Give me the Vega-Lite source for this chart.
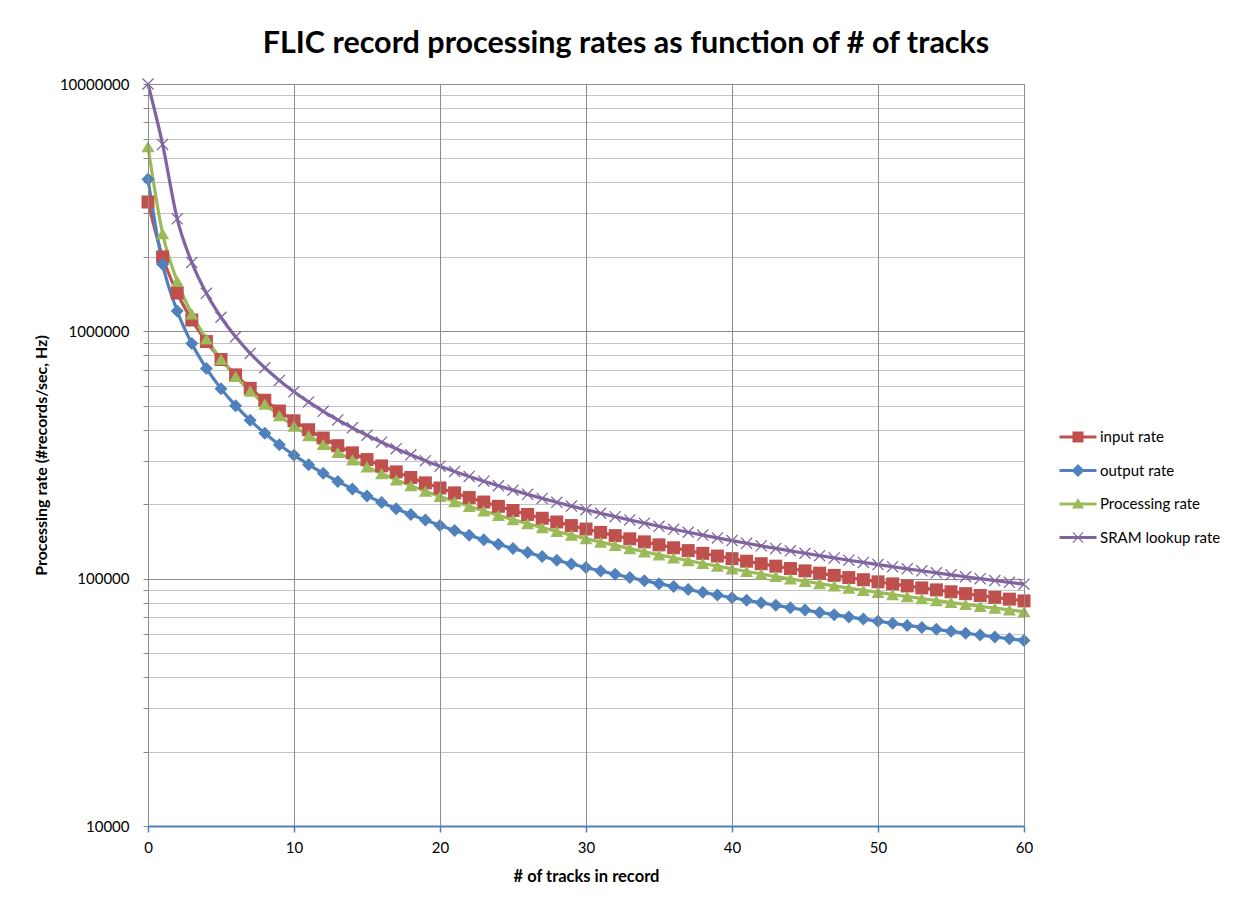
{
  "$schema": "https://vega.github.io/schema/vega-lite/v6.json",
  "autosize": {"type": "none"},
  "width": 876,
  "height": 742,
  "padding": {"left": 148, "top": 84, "right": 227, "bottom": 81},
  "background": "white",
  "config": {
    "view": {"stroke": null},
    "font": "Lato",
    "legend": {
      "title": null,
      "orient": "none", "legendX": 920, "legendY": 343,
      "padding": 0,
      "symbolSize": 400,
      "labelOffset": 12,
      "rowPadding": 15.5,
      "labelFont": "Lato", "labelFontSize": 15, "labelColor": "#000000",
      "symbolOpacity": 1,
      "symbolStrokeWidth": 0
    }
  },
  "title": {
    "text": "FLIC record processing rates as function of # of tracks",
    "font": "Lato", "fontSize": 30.5, "fontWeight": "bold", "color": "#000000",
    "anchor": "middle", "frame": "group", "dx": 40, "baseline": "alphabetic", "offset": -6
  },
  "datasets": {
    "rates": [
      {"s":"input rate","x":0,"y":3333333},{"s":"input rate","x":1,"y":2000000},{"s":"input rate","x":2,"y":1428571},{"s":"input rate","x":3,"y":1111111},{"s":"input rate","x":4,"y":909091},{"s":"input rate","x":5,"y":769231},{"s":"input rate","x":6,"y":666667},{"s":"input rate","x":7,"y":588235},{"s":"input rate","x":8,"y":526316},{"s":"input rate","x":9,"y":476190},
      {"s":"input rate","x":10,"y":434783},{"s":"input rate","x":11,"y":400000},{"s":"input rate","x":12,"y":370370},{"s":"input rate","x":13,"y":344828},{"s":"input rate","x":14,"y":322581},{"s":"input rate","x":15,"y":303030},{"s":"input rate","x":16,"y":285714},{"s":"input rate","x":17,"y":270270},{"s":"input rate","x":18,"y":256410},{"s":"input rate","x":19,"y":243902},
      {"s":"input rate","x":20,"y":232558},{"s":"input rate","x":21,"y":222222},{"s":"input rate","x":22,"y":212766},{"s":"input rate","x":23,"y":204082},{"s":"input rate","x":24,"y":196078},{"s":"input rate","x":25,"y":188679},{"s":"input rate","x":26,"y":181818},{"s":"input rate","x":27,"y":175439},{"s":"input rate","x":28,"y":169492},{"s":"input rate","x":29,"y":163934},
      {"s":"input rate","x":30,"y":158730},{"s":"input rate","x":31,"y":153846},{"s":"input rate","x":32,"y":149254},{"s":"input rate","x":33,"y":144928},{"s":"input rate","x":34,"y":140845},{"s":"input rate","x":35,"y":136986},{"s":"input rate","x":36,"y":133333},{"s":"input rate","x":37,"y":129870},{"s":"input rate","x":38,"y":126582},{"s":"input rate","x":39,"y":123457},
      {"s":"input rate","x":40,"y":120482},{"s":"input rate","x":41,"y":117647},{"s":"input rate","x":42,"y":114943},{"s":"input rate","x":43,"y":112360},{"s":"input rate","x":44,"y":109890},{"s":"input rate","x":45,"y":107527},{"s":"input rate","x":46,"y":105263},{"s":"input rate","x":47,"y":103093},{"s":"input rate","x":48,"y":101010},{"s":"input rate","x":49,"y":99010},
      {"s":"input rate","x":50,"y":97087},{"s":"input rate","x":51,"y":95238},{"s":"input rate","x":52,"y":93458},{"s":"input rate","x":53,"y":91743},{"s":"input rate","x":54,"y":90090},{"s":"input rate","x":55,"y":88496},{"s":"input rate","x":56,"y":86957},{"s":"input rate","x":57,"y":85470},{"s":"input rate","x":58,"y":84034},{"s":"input rate","x":59,"y":82645},{"s":"input rate","x":60,"y":81301},

      {"s":"output rate","x":0,"y":4120482},{"s":"output rate","x":1,"y":1868852},{"s":"output rate","x":2,"y":1208481},{"s":"output rate","x":3,"y":892950},{"s":"output rate","x":4,"y":708075},{"s":"output rate","x":5,"y":586621},{"s":"output rate","x":6,"y":500732},{"s":"output rate","x":7,"y":436782},{"s":"output rate","x":8,"y":387316},{"s":"output rate","x":9,"y":347915},
      {"s":"output rate","x":10,"y":315789},{"s":"output rate","x":11,"y":289095},{"s":"output rate","x":12,"y":266563},{"s":"output rate","x":13,"y":247289},{"s":"output rate","x":14,"y":230614},{"s":"output rate","x":15,"y":216045},{"s":"output rate","x":16,"y":203209},{"s":"output rate","x":17,"y":191812},{"s":"output rate","x":18,"y":181625},{"s":"output rate","x":19,"y":172466},
      {"s":"output rate","x":20,"y":164186},{"s":"output rate","x":21,"y":156665},{"s":"output rate","x":22,"y":149803},{"s":"output rate","x":23,"y":143517},{"s":"output rate","x":24,"y":137737},{"s":"output rate","x":25,"y":132404},{"s":"output rate","x":26,"y":127469},{"s":"output rate","x":27,"y":122889},{"s":"output rate","x":28,"y":118626},{"s":"output rate","x":29,"y":114650},
      {"s":"output rate","x":30,"y":110931},{"s":"output rate","x":31,"y":107446},{"s":"output rate","x":32,"y":104173},{"s":"output rate","x":33,"y":101093},{"s":"output rate","x":34,"y":98191},{"s":"output rate","x":35,"y":95451},{"s":"output rate","x":36,"y":92859},{"s":"output rate","x":37,"y":90404},{"s":"output rate","x":38,"y":88076},{"s":"output rate","x":39,"y":85865},
      {"s":"output rate","x":40,"y":83762},{"s":"output rate","x":41,"y":81760},{"s":"output rate","x":42,"y":79851},{"s":"output rate","x":43,"y":78029},{"s":"output rate","x":44,"y":76288},{"s":"output rate","x":45,"y":74624},{"s":"output rate","x":46,"y":73030},{"s":"output rate","x":47,"y":71503},{"s":"output rate","x":48,"y":70039},{"s":"output rate","x":49,"y":68633},
      {"s":"output rate","x":50,"y":67283},{"s":"output rate","x":51,"y":65985},{"s":"output rate","x":52,"y":64736},{"s":"output rate","x":53,"y":63533},{"s":"output rate","x":54,"y":62375},{"s":"output rate","x":55,"y":61257},{"s":"output rate","x":56,"y":60179},{"s":"output rate","x":57,"y":59139},{"s":"output rate","x":58,"y":58134},{"s":"output rate","x":59,"y":57162},{"s":"output rate","x":60,"y":56222},

      {"s":"Processing rate","x":0,"y":5587500},{"s":"Processing rate","x":1,"y":2483333},{"s":"Processing rate","x":2,"y":1596429},{"s":"Processing rate","x":3,"y":1176316},{"s":"Processing rate","x":4,"y":931250},{"s":"Processing rate","x":5,"y":770690},{"s":"Processing rate","x":6,"y":657353},{"s":"Processing rate","x":7,"y":573077},{"s":"Processing rate","x":8,"y":507955},{"s":"Processing rate","x":9,"y":456122},
      {"s":"Processing rate","x":10,"y":413889},{"s":"Processing rate","x":11,"y":378814},{"s":"Processing rate","x":12,"y":349219},{"s":"Processing rate","x":13,"y":323913},{"s":"Processing rate","x":14,"y":302027},{"s":"Processing rate","x":15,"y":282911},{"s":"Processing rate","x":16,"y":266071},{"s":"Processing rate","x":17,"y":251124},{"s":"Processing rate","x":18,"y":237766},{"s":"Processing rate","x":19,"y":225758},
      {"s":"Processing rate","x":20,"y":214904},{"s":"Processing rate","x":21,"y":205046},{"s":"Processing rate","x":22,"y":196053},{"s":"Processing rate","x":23,"y":187815},{"s":"Processing rate","x":24,"y":180242},{"s":"Processing rate","x":25,"y":173256},{"s":"Processing rate","x":26,"y":166791},{"s":"Processing rate","x":27,"y":160791},{"s":"Processing rate","x":28,"y":155208},{"s":"Processing rate","x":29,"y":150000},
      {"s":"Processing rate","x":30,"y":145130},{"s":"Processing rate","x":31,"y":140566},{"s":"Processing rate","x":32,"y":136280},{"s":"Processing rate","x":33,"y":132249},{"s":"Processing rate","x":34,"y":128448},{"s":"Processing rate","x":35,"y":124860},{"s":"Processing rate","x":36,"y":121467},{"s":"Processing rate","x":37,"y":118254},{"s":"Processing rate","x":38,"y":115206},{"s":"Processing rate","x":39,"y":112312},
      {"s":"Processing rate","x":40,"y":109559},{"s":"Processing rate","x":41,"y":106938},{"s":"Processing rate","x":42,"y":104439},{"s":"Processing rate","x":43,"y":102055},{"s":"Processing rate","x":44,"y":99777},{"s":"Processing rate","x":45,"y":97598},{"s":"Processing rate","x":46,"y":95513},{"s":"Processing rate","x":47,"y":93515},{"s":"Processing rate","x":48,"y":91598},{"s":"Processing rate","x":49,"y":89759},
      {"s":"Processing rate","x":50,"y":87992},{"s":"Processing rate","x":51,"y":86293},{"s":"Processing rate","x":52,"y":84659},{"s":"Processing rate","x":53,"y":83086},{"s":"Processing rate","x":54,"y":81569},{"s":"Processing rate","x":55,"y":80108},{"s":"Processing rate","x":56,"y":78697},{"s":"Processing rate","x":57,"y":77336},{"s":"Processing rate","x":58,"y":76020},{"s":"Processing rate","x":59,"y":74749},{"s":"Processing rate","x":60,"y":73520},

      {"s":"SRAM lookup rate","x":0,"y":10000000},{"s":"SRAM lookup rate","x":1,"y":5700000},{"s":"SRAM lookup rate","x":2,"y":2850000},{"s":"SRAM lookup rate","x":3,"y":1900000},{"s":"SRAM lookup rate","x":4,"y":1425000},{"s":"SRAM lookup rate","x":5,"y":1140000},{"s":"SRAM lookup rate","x":6,"y":950000},{"s":"SRAM lookup rate","x":7,"y":814286},{"s":"SRAM lookup rate","x":8,"y":712500},{"s":"SRAM lookup rate","x":9,"y":633333},
      {"s":"SRAM lookup rate","x":10,"y":570000},{"s":"SRAM lookup rate","x":11,"y":518182},{"s":"SRAM lookup rate","x":12,"y":475000},{"s":"SRAM lookup rate","x":13,"y":438462},{"s":"SRAM lookup rate","x":14,"y":407143},{"s":"SRAM lookup rate","x":15,"y":380000},{"s":"SRAM lookup rate","x":16,"y":356250},{"s":"SRAM lookup rate","x":17,"y":335294},{"s":"SRAM lookup rate","x":18,"y":316667},{"s":"SRAM lookup rate","x":19,"y":300000},
      {"s":"SRAM lookup rate","x":20,"y":285000},{"s":"SRAM lookup rate","x":21,"y":271429},{"s":"SRAM lookup rate","x":22,"y":259091},{"s":"SRAM lookup rate","x":23,"y":247826},{"s":"SRAM lookup rate","x":24,"y":237500},{"s":"SRAM lookup rate","x":25,"y":228000},{"s":"SRAM lookup rate","x":26,"y":219231},{"s":"SRAM lookup rate","x":27,"y":211111},{"s":"SRAM lookup rate","x":28,"y":203571},{"s":"SRAM lookup rate","x":29,"y":196552},
      {"s":"SRAM lookup rate","x":30,"y":190000},{"s":"SRAM lookup rate","x":31,"y":183871},{"s":"SRAM lookup rate","x":32,"y":178125},{"s":"SRAM lookup rate","x":33,"y":172727},{"s":"SRAM lookup rate","x":34,"y":167647},{"s":"SRAM lookup rate","x":35,"y":162857},{"s":"SRAM lookup rate","x":36,"y":158333},{"s":"SRAM lookup rate","x":37,"y":154054},{"s":"SRAM lookup rate","x":38,"y":150000},{"s":"SRAM lookup rate","x":39,"y":146154},
      {"s":"SRAM lookup rate","x":40,"y":142500},{"s":"SRAM lookup rate","x":41,"y":139024},{"s":"SRAM lookup rate","x":42,"y":135714},{"s":"SRAM lookup rate","x":43,"y":132558},{"s":"SRAM lookup rate","x":44,"y":129545},{"s":"SRAM lookup rate","x":45,"y":126667},{"s":"SRAM lookup rate","x":46,"y":123913},{"s":"SRAM lookup rate","x":47,"y":121277},{"s":"SRAM lookup rate","x":48,"y":118750},{"s":"SRAM lookup rate","x":49,"y":116327},
      {"s":"SRAM lookup rate","x":50,"y":114000},{"s":"SRAM lookup rate","x":51,"y":111765},{"s":"SRAM lookup rate","x":52,"y":109615},{"s":"SRAM lookup rate","x":53,"y":107547},{"s":"SRAM lookup rate","x":54,"y":105556},{"s":"SRAM lookup rate","x":55,"y":103636},{"s":"SRAM lookup rate","x":56,"y":101786},{"s":"SRAM lookup rate","x":57,"y":100000},{"s":"SRAM lookup rate","x":58,"y":98276},{"s":"SRAM lookup rate","x":59,"y":96610},{"s":"SRAM lookup rate","x":60,"y":95000}
    ]
  },
  "data": {"name": "rates"},
  "encoding": {
    "x": {
      "field": "x", "type": "quantitative",
      "scale": {"domain": [0, 60], "nice": false, "zero": false},
      "axis": {
        "title": "# of tracks in record",
        "values": [0, 10, 20, 30, 40, 50, 60],
        "format": "d",
        "grid": true, "gridColor": "#8c8c8c", "gridWidth": 1,
        "domainColor": "#4f81bd", "domainWidth": 2,
        "tickColor": "#4f81bd", "tickSize": 6, "tickWidth": 1.5,
        "labelFont": "Lato", "labelFontSize": 15, "labelColor": "#000000", "labelPadding": 8, "labelFlush": false,
        "titleFont": "Lato", "titleFontSize": 16.5, "titleFontWeight": "bold", "titleColor": "#000000", "titlePadding": 13,
        "zindex": 1
      }
    },
    "y": {
      "field": "y", "type": "quantitative",
      "scale": {"type": "log", "domain": [10000, 10000000], "nice": false},
      "axis": {
        "title": "Processing rate (#records/sec, Hz)",
        "values": [10000, 20000, 30000, 40000, 50000, 60000, 70000, 80000, 90000,
                   100000, 200000, 300000, 400000, 500000, 600000, 700000, 800000, 900000,
                   1000000, 2000000, 3000000, 4000000, 5000000, 6000000, 7000000, 8000000, 9000000, 10000000],
        "labelExpr": "indexof([10000, 100000, 1000000, 10000000], datum.value) >= 0 ? format(datum.value, 'd') : ''",
        "grid": true,
        "gridColor": {"condition": {"test": "indexof([10000, 100000, 1000000, 10000000], datum.value) >= 0", "value": "#8c8c8c"}, "value": "#c4c4c4"},
        "gridWidth": 1.2,
        "domainColor": "#868686", "domainWidth": 1,
        "tickColor": "#868686", "tickSize": 5, "tickWidth": 1,
        "labelFont": "Lato", "labelFontSize": 15, "labelColor": "#000000", "labelPadding": 14, "labelOverlap": false, "labelFlush": false,
        "titleFont": "Lato", "titleFontSize": 16, "titleFontWeight": "bold", "titleColor": "#000000", "titlePadding": 10
      }
    }
  },
  "layer": [
    {
      "mark": {"type": "line", "interpolate": "monotone", "strokeWidth": 3.2, "clip": false},
      "encoding": {
        "color": {
          "field": "s", "type": "nominal",
          "scale": {"domain": ["input rate", "output rate", "Processing rate", "SRAM lookup rate"],
                    "range": ["#c0504d", "#4f81bd", "#9bbb59", "#8064a2"]},
          "legend": {
            "encode": {
              "symbols": {
                "update": {
                  "shape": {"signal": "datum.value == 'input rate' ? 'M-1.85,-0.14H1.85V0.14H-1.85Z M-0.55,-0.55H0.55V0.55H-0.55Z' : datum.value == 'output rate' ? 'M-1.85,-0.14H1.85V0.14H-1.85Z M0,-0.65L0.65,0L0,0.65L-0.65,0Z' : datum.value == 'Processing rate' ? 'M-1.85,-0.14H1.85V0.14H-1.85Z M0,-0.6L0.6,0.45L-0.6,0.45Z' : 'M-1.85,-0.14H1.85V0.14H-1.85Z M-0.55,-0.47L-0.47,-0.55L0.55,0.47L0.47,0.55Z M0.47,-0.55L0.55,-0.47L-0.47,0.55L-0.55,0.47Z'"},
                  "fill": {"signal": "scale('color', datum.value)"},
                  "strokeWidth": {"value": 0},
                  "opacity": {"value": 1}
                }
              }
            }
          }
        },
        "detail": {"field": "s"}
      }
    },
    {
      "transform": [{"filter": "datum.s == 'input rate'"}],
      "mark": {"type": "point", "shape": "square", "filled": true, "color": "#c0504d", "opacity": 1, "size": 169, "clip": false}
    },
    {
      "transform": [{"filter": "datum.s == 'output rate'"}],
      "mark": {"type": "point", "shape": "diamond", "filled": true, "color": "#4f81bd", "opacity": 1, "size": 169, "clip": false}
    },
    {
      "transform": [{"filter": "datum.s == 'Processing rate'"}],
      "mark": {"type": "point", "shape": "triangle-up", "filled": true, "color": "#9bbb59", "opacity": 1, "size": 169, "clip": false}
    },
    {
      "transform": [{"filter": "datum.s == 'SRAM lookup rate'"}],
      "mark": {"type": "point", "shape": "M-1,-0.85L-0.85,-1L1,0.85L0.85,1Z M0.85,-1L1,-0.85L-0.85,1L-1,0.85Z", "filled": true, "color": "#8064a2", "opacity": 1, "size": 144, "clip": false}
    }
  ]
}
